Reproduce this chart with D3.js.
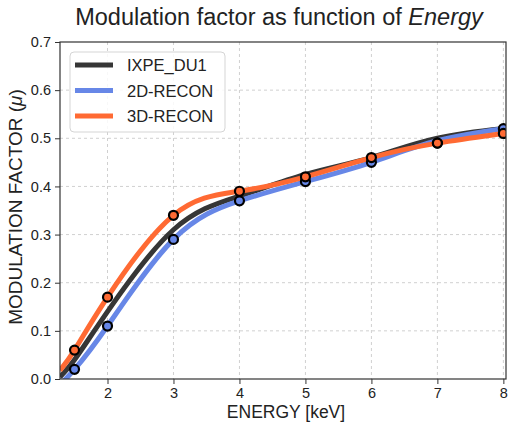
<!DOCTYPE html>
<html>
<head>
<meta charset="utf-8">
<title>Modulation factor</title>
<script src="https://d3js.org/d3.v7.min.js"></script>
<style>
  body { margin: 0; background: #fff; }
  text { font-family: "Liberation Sans", Arial, Helvetica, sans-serif; fill: #222; }
  .grid line { stroke: #d0d0d0; stroke-dasharray: 3,3; stroke-width: 1; }
</style>
</head>
<body>
<div id="chart"></div>
<script>
// marker energies and measured values
var energies = [1.5, 2, 3, 4, 5, 6, 7, 8];
var recon2D = [0.02, 0.11, 0.29, 0.37, 0.41, 0.45, 0.49, 0.52];
var recon3D = [0.06, 0.17, 0.34, 0.39, 0.42, 0.46, 0.49, 0.51];

// curve samples (incl. the plot edges)
var curveE   = [1.28, 1.5, 2, 3, 4, 5, 6, 7, 8, 8.04];
var curveDU1 = [0.004, 0.04, 0.14, 0.31, 0.38, 0.425, 0.46, 0.50, 0.52, 0.521];
var curve2D  = [-0.012, 0.02, 0.11, 0.29, 0.37, 0.41, 0.45, 0.495, 0.52, 0.521];
var curve3D  = [0.018, 0.06, 0.17, 0.34, 0.39, 0.42, 0.46, 0.49, 0.51, 0.512];

var seriesNames = ["IXPE_DU1", "2D-RECON", "3D-RECON"];
var seriesColors = ["#363636", "#6787e7", "#ff6a33"];
var xTicks = [2, 3, 4, 5, 6, 7, 8];
var yTicks = [0, 0.1, 0.2, 0.3, 0.4, 0.5, 0.6, 0.7];

var W = 512, H = 422;
var margin = {top: 42, right: 6, bottom: 43, left: 60};
var width = W - margin.left - margin.right,
    height = H - margin.top - margin.bottom;

var svg = d3.select("#chart").append("svg")
    .attr("width", W).attr("height", H);

var g = svg.append("g")
    .attr("transform", "translate(" + margin.left + "," + margin.top + ")");

var x = d3.scaleLinear().domain([1.28, 8.04]).range([0, width]);
var y = d3.scaleLinear().domain([0, 0.7]).range([height, 0]);

// grid
var grid = g.append("g").attr("class", "grid");
grid.selectAll(".gx").data(xTicks).enter().append("line")
    .attr("x1", d => x(d)).attr("x2", d => x(d))
    .attr("y1", 0).attr("y2", height);
grid.selectAll(".gy").data(yTicks.slice(1, -1)).enter().append("line")
    .attr("x1", 0).attr("x2", width)
    .attr("y1", d => y(d)).attr("y2", d => y(d));

g.append("clipPath").attr("id", "clip")
  .append("rect").attr("width", width).attr("height", height);

var line = d3.line()
    .x(d => x(d[0]))
    .y(d => y(d[1]))
    .curve(d3.curveNatural);

var curves = [curveDU1, curve2D, curve3D];
var plot = g.append("g").attr("clip-path", "url(#clip)");
curves.forEach(function(vals, i) {
  plot.append("path")
    .datum(curveE.map((e, k) => [e, vals[k]]))
    .attr("d", line)
    .attr("fill", "none")
    .attr("stroke", seriesColors[i])
    .attr("stroke-width", 5)
    .attr("stroke-linecap", "butt");
});

// markers
[[recon2D, 1], [recon3D, 2]].forEach(function(s) {
  plot.selectAll(null)
    .data(energies.map((e, k) => [e, s[0][k]]))
    .enter().append("circle")
    .attr("cx", d => x(d[0]))
    .attr("cy", d => y(d[1]))
    .attr("r", 4.5)
    .attr("fill", seriesColors[s[1]])
    .attr("stroke", "#000")
    .attr("stroke-width", 2.2);
});

// axes
var xAxis = g.append("g")
    .attr("transform", "translate(0," + height + ")")
    .call(d3.axisBottom(x).tickValues(xTicks).tickSize(5).tickPadding(4).tickFormat(d3.format("d")));
var yAxis = g.append("g")
    .call(d3.axisLeft(y).tickValues(yTicks).tickSize(5).tickPadding(4).tickFormat(d3.format(".1f")));
[xAxis, yAxis].forEach(function(a) {
  a.select(".domain").remove();
  a.selectAll("line").attr("stroke", "#333");
  a.selectAll("text").style("font-size", "14.5px").attr("fill", "#222");
});

// frame
g.append("rect")
    .attr("width", width).attr("height", height)
    .attr("fill", "none").attr("stroke", "#333").attr("stroke-width", 1.2);

// labels
svg.append("text")
    .attr("x", margin.left + width / 2 - 4).attr("y", 25)
    .attr("text-anchor", "middle")
    .style("font-size", "23.5px")
    .html('Modulation factor as function of <tspan font-style="italic">Energy</tspan>');

svg.append("text")
    .attr("x", margin.left + width / 2 + 3).attr("y", 418)
    .attr("text-anchor", "middle")
    .style("font-size", "17.5px")
    .text("ENERGY [keV]");

svg.append("text")
    .attr("transform", "translate(22,207) rotate(-90)")
    .attr("text-anchor", "middle")
    .style("font-size", "19px")
    .html('MODULATION FACTOR (<tspan font-style="italic">μ</tspan>)');

// legend
var lg = svg.append("g").attr("transform", "translate(70,52)");
lg.append("rect")
    .attr("width", 155).attr("height", 80)
    .attr("rx", 4)
    .attr("fill", "#fff").attr("fill-opacity", 0.85)
    .attr("stroke", "#d5d5d5");
seriesNames.forEach(function(name, i) {
  var yy = 13 + i * 25.5;
  lg.append("line")
    .attr("x1", 5).attr("x2", 43)
    .attr("y1", yy).attr("y2", yy)
    .attr("stroke", seriesColors[i]).attr("stroke-width", 5);
  lg.append("text")
    .attr("x", 57).attr("y", yy + 6)
    .style("font-size", "16.5px")
    .text(name);
});
</script>
</body>
</html>
